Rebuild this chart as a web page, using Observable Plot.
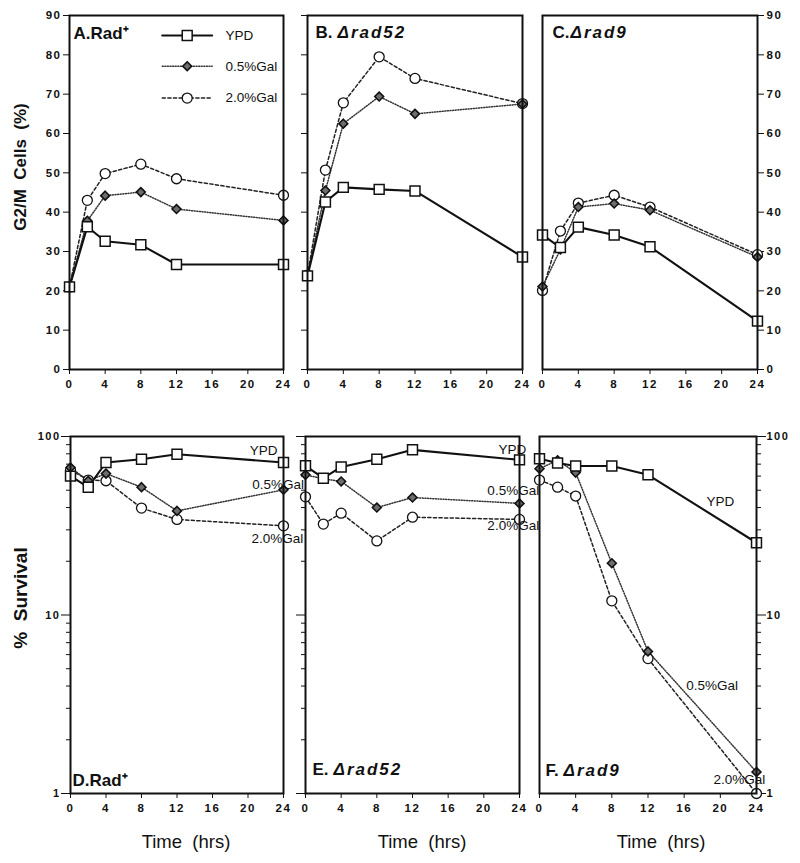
<!DOCTYPE html>
<html><head><meta charset="utf-8">
<script src="https://cdn.jsdelivr.net/npm/d3@7"></script>
<script src="https://cdn.jsdelivr.net/npm/@observablehq/plot@0.6"></script>
<style>
body{margin:0;background:#fff;font-family:"Liberation Sans",Arial,sans-serif;}
#chart{position:relative;width:800px;height:863px;overflow:hidden;}
#chart svg{position:absolute;overflow:visible;background:transparent;max-width:none;}
.t{position:absolute;color:#111;white-space:pre;line-height:1;}
</style></head><body><div id="chart"></div>
<script>
// ---- data ----
const hours = [0, 2, 4, 8, 12, 24];
const media = ["YPD", "0.5%Gal", "2.0%Gal"];
const xTicks = [0, 4, 8, 12, 16, 20, 24];
const g2mTicks = [0, 10, 20, 30, 40, 50, 60, 70, 80, 90];
const logMajorTicks = [1, 10, 100];
const logMinorTicks = [2, 3, 4, 5, 6, 7, 8, 9, 20, 30, 40, 50, 60, 70, 80, 90];

// G2/M cells (%)
const g2mRadYPD    = [21, 36.3, 32.6, 31.7, 26.7, 26.7];
const g2mRadGal05  = [21, 37.8, 44.2, 45.1, 40.8, 37.9];
const g2mRadGal20  = [21, 43.0, 49.8, 52.2, 48.5, 44.3];
const g2mRad52YPD   = [23.8, 42.6, 46.3, 45.8, 45.4, 28.6];
const g2mRad52Gal05 = [24.0, 45.5, 62.5, 69.4, 65.0, 67.5];
const g2mRad52Gal20 = [24.0, 50.7, 67.8, 79.5, 74.0, 67.6];
const g2mRad9YPD   = [34.2, 31.0, 36.2, 34.2, 31.2, 12.3];
const g2mRad9Gal05 = [21.1, 30.5, 41.3, 42.2, 40.5, 28.6];
const g2mRad9Gal20 = [20.1, 35.2, 42.3, 44.3, 41.3, 29.2];

// % survival
const survRadYPD    = [60, 52, 71.5, 74.5, 79.5, 71.5];
const survRadGal05  = [67, 56.5, 62, 52, 38.3, 50.3];
const survRadGal20  = [64.8, 57, 56.5, 39.7, 34.3, 31.6];
const survRad52YPD   = [68.5, 58.4, 67.5, 74.6, 84.2, 74];
const survRad52Gal05 = [61, 58, 56, 40, 45.5, 42.2];
const survRad52Gal20 = [45.9, 32.3, 37.2, 26, 35.3, 34.3];
const survRad9YPD   = [75, 71, 68.4, 68.4, 61, 25.4];
const survRad9Gal05 = [66, 73.5, 62.8, 19.5, 6.25, 1.32];
const survRad9Gal20 = [57, 52, 46.4, 12, 5.7, 1.0];

// ---- helpers ----
const FONT = '"Liberation Sans", Arial, Helvetica, sans-serif';
const styleOf = {
  "YPD":     {line: {stroke: "#111", strokeWidth: 2.1}, dot: {symbol: "square", r: 5.6, fill: "white", stroke: "#111", strokeWidth: 1.5}},
  "0.5%Gal": {line: {stroke: "#333", strokeWidth: 1.5, strokeDasharray: "1,1.6"}, dot: {symbol: "diamond2", r: 4, fill: "#6d6d6d", stroke: "#111", strokeWidth: 1.6}},
  "2.0%Gal": {line: {stroke: "#222", strokeWidth: 1.5, strokeDasharray: "3.2,2.4"}, dot: {symbol: "circle", r: 5, fill: "white", stroke: "#111", strokeWidth: 1.3}}
};
function rows(arrs) {
  return arrs.flatMap((arr, k) => hours.map((h, i) => ({hour: h, value: arr[i], medium: media[k]})));
}
function seriesMarks(data) {
  const order = ["2.0%Gal", "0.5%Gal", "YPD"];
  const lines = order.map(m => Plot.line(data.filter(d => d.medium === m), {x: "hour", y: "value", ...styleOf[m].line}));
  const dots = order.map(m => Plot.dot(data.filter(d => d.medium === m), {x: "hour", y: "value", ...styleOf[m].dot}));
  return [...lines, ...dots];
}
const ML = 50, MR = 50, MT = 14, MB = 34;
const chart = document.getElementById("chart");
function panel({L, T, W, H, log, data, yAxes, labels, extra = []}) {
  const y = log ? {type: "log", domain: [1, 100]} : {domain: [0, 90]};
  const svg = Plot.plot({
    width: W + ML + MR, height: H + MT + MB,
    marginLeft: ML, marginRight: MR, marginTop: MT, marginBottom: MB,
    x: {domain: [0, 24]}, y,
    style: {fontFamily: FONT, background: "transparent", color: "#111", overflow: "visible"},
    marks: [
      ...yAxes,
      Plot.axisX({ticks: xTicks, tickSize: 5, tickPadding: 5, fontSize: 11.5, fontWeight: "bold", label: null}),
      ...seriesMarks(data),
      ...extra,
      Plot.frame({stroke: "#111", strokeWidth: 2}),
      ...labels
    ]
  });
  svg.style.left = (L - ML) + "px";
  svg.style.top = (T - MT) + "px";
  chart.appendChild(svg);
  return svg;
}
const linAxisLeft = (withLabels) => Plot.axisY({anchor: "left", ticks: g2mTicks, tickSize: 6, tickPadding: 2, fontSize: 11.5, fontWeight: "bold", label: null, tickFormat: withLabels ? (d => String(d)) : (() => "")});
const linAxisRight = () => Plot.axisY({anchor: "right", ticks: g2mTicks, tickSize: 6, tickPadding: 3, fontSize: 11.5, fontWeight: "bold", label: null});
const logAxes = (anchor, withLabels) => [
  Plot.axisY({anchor, ticks: logMajorTicks, tickSize: 9, tickPadding: 1, fontSize: 11, fontWeight: "bold", label: null, tickFormat: withLabels ? (d => String(d)) : (() => "")}),
  Plot.axisY({anchor, ticks: logMinorTicks, tickSize: 4, label: null, tickFormat: () => ""})
];
const panelLabel = (parts, corner, dy) => parts.map(([txt, dx, italic]) =>
  Plot.text([txt], {frameAnchor: corner, dx, dy, textAnchor: "start", lineAnchor: "middle", fontSize: 17, fontWeight: "bold", fontStyle: italic ? "italic" : "normal", fill: "#111"}));

// legend (panel A)
const legendRows = [
  {medium: "YPD", value: 84.9},
  {medium: "0.5%Gal", value: 77.1},
  {medium: "2.0%Gal", value: 69.0}
];
const legendMarks = legendRows.flatMap(r => [
  Plot.line([{hour: 10.4, value: r.value}, {hour: 16.0, value: r.value}], {x: "hour", y: "value", ...styleOf[r.medium].line}),
  Plot.dot([{hour: 13.2, value: r.value}], {x: "hour", y: "value", ...styleOf[r.medium].dot}),
  Plot.text([{hour: 17.5, value: r.value, label: r.medium}], {x: "hour", y: "value", text: "label", textAnchor: "start", fontSize: 13.5, fill: "#111"})
]);
const annot = (list) => Plot.text(list, {x: "hour", y: "value", text: "label", textAnchor: "anchor", fontSize: 13.5, fill: "#111"});

// ---- top row ----
panel({L: 69, T: 15, W: 214, H: 354, log: false,
  data: rows([g2mRadYPD, g2mRadGal05, g2mRadGal20]),
  yAxes: [linAxisLeft(true)],
  labels: panelLabel([["A.Rad⁺", 4, false]], "top-left", 18),
  extra: legendMarks});
panel({L: 307, T: 15, W: 215, H: 354, log: false,
  data: rows([g2mRad52YPD, g2mRad52Gal05, g2mRad52Gal20]),
  yAxes: [linAxisLeft(false)],
  labels: panelLabel([["B.", 8, false], ["Δrad52", 30, true]], "top-left", 17)});
panel({L: 542, T: 15, W: 215, H: 354, log: false,
  data: rows([g2mRad9YPD, g2mRad9Gal05, g2mRad9Gal20]),
  yAxes: [linAxisRight()],
  labels: panelLabel([["C.", 10, false], ["Δrad9", 28, true]], "top-left", 17)});

// ---- bottom row ----
panel({L: 70, T: 436, W: 213, H: 357, log: true,
  data: rows([survRadYPD, survRadGal05, survRadGal20]),
  yAxes: logAxes("left", true),
  labels: panelLabel([["D.Rad⁺", 2, false]], "bottom-left", -13),
  extra: [annot([
    {hour: 21.75, value: 83.5, label: "YPD", anchor: "middle"},
    {hour: 23.4, value: 53.8, label: "0.5%Gal", anchor: "end"},
    {hour: 23.3, value: 26.8, label: "2.0%Gal", anchor: "end"}])]});
panel({L: 305, T: 436, W: 214, H: 357, log: true,
  data: rows([survRad52YPD, survRad52Gal05, survRad52Gal20]),
  yAxes: logAxes("left", false),
  labels: panelLabel([["E.", 7, false], ["Δrad52", 28, true]], "bottom-left", -24),
  extra: [annot([
    {hour: 23.2, value: 84.6, label: "YPD", anchor: "end"},
    {hour: 23.3, value: 49.9, label: "0.5%Gal", anchor: "end"},
    {hour: 23.3, value: 31.7, label: "2.0%Gal", anchor: "end"}])]});
panel({L: 539, T: 436, W: 217, H: 357, log: true,
  data: rows([survRad9YPD, survRad9Gal05, survRad9Gal20]),
  yAxes: logAxes("right", true),
  labels: panelLabel([["F.", 6, false], ["Δrad9", 24, true]], "bottom-left", -23),
  extra: [annot([
    {hour: 20.0, value: 43.3, label: "YPD", anchor: "middle"},
    {hour: 19.1, value: 4.03, label: "0.5%Gal", anchor: "middle"},
    {hour: 22.1, value: 1.2, label: "2.0%Gal", anchor: "end"}])]});

// letter spacing for italic gene names and axis digits
chart.querySelectorAll("text").forEach(t => {
  if (/^Δrad/.test(t.textContent)) t.setAttribute("letter-spacing", "2");
});
chart.querySelectorAll("g[aria-label='x-axis tick label'] text, g[aria-label='y-axis tick label'] text").forEach(t => t.setAttribute("letter-spacing", "1.5"));

// ---- axis titles (HTML) ----
function title(txt, x, y, size, weight, rotate) {
  const d = document.createElement("div");
  d.className = "t";
  d.textContent = txt;
  d.style.left = x + "px"; d.style.top = y + "px";
  d.style.fontSize = size + "px"; d.style.fontWeight = weight;
  d.style.transform = "translate(-50%,-50%)" + (rotate ? " rotate(-90deg)" : "");
  chart.appendChild(d);
}
title("G2/M  Cells  (%)", 20, 167, 17, "bold", true);
title("%  Survival", 20, 598, 19, "bold", true);
title("Time  (hrs)", 186, 842, 18.5, "normal", false);
title("Time  (hrs)", 422, 842, 18.5, "normal", false);
title("Time  (hrs)", 661, 842, 18.5, "normal", false);
</script></body></html>
